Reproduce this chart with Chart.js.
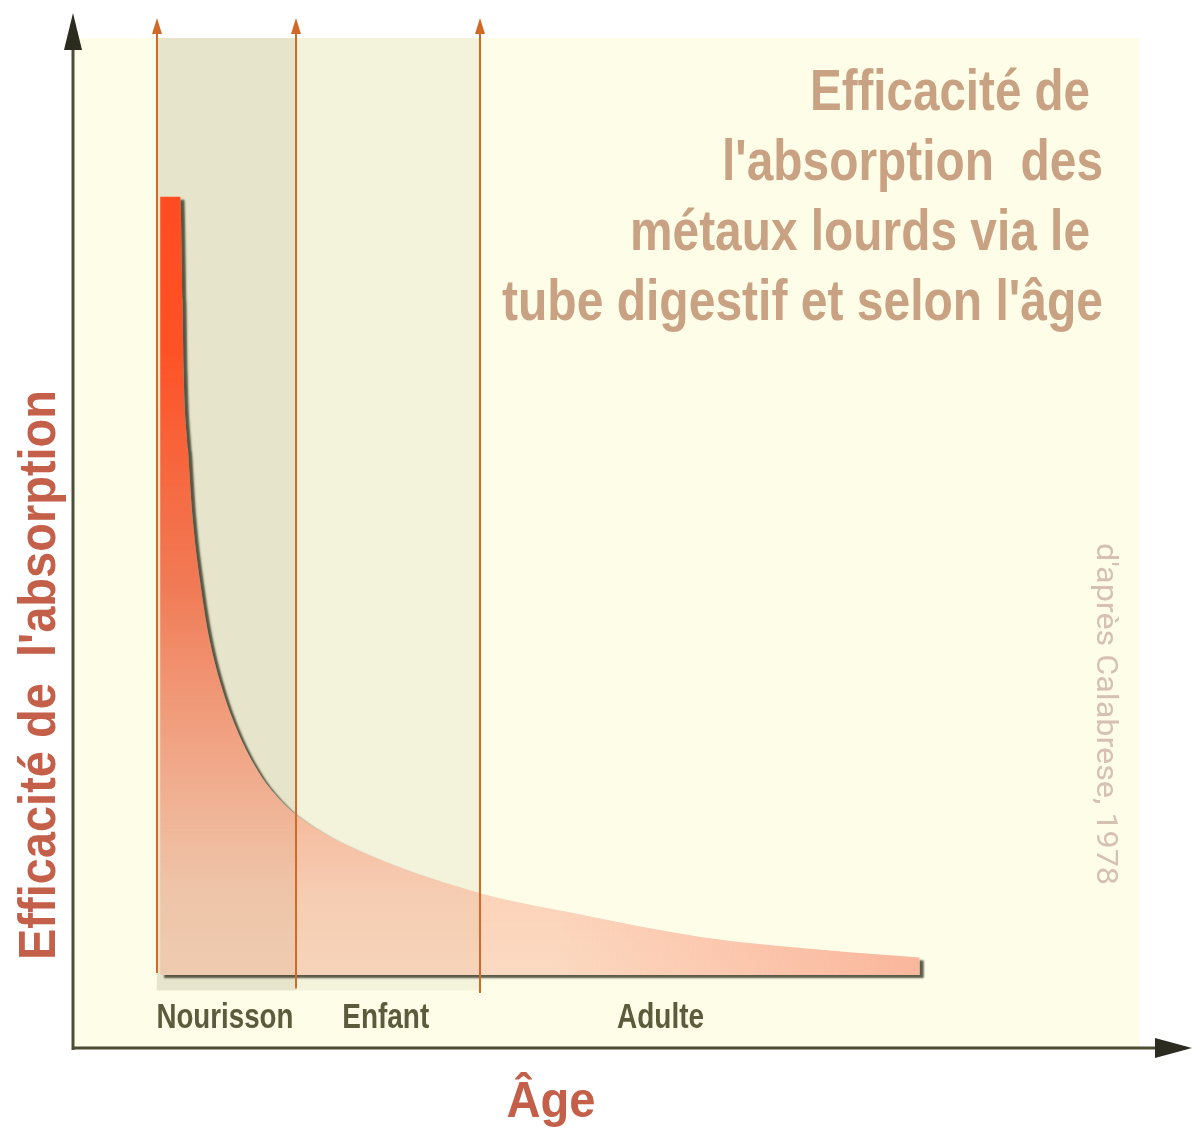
<!DOCTYPE html>
<html lang="fr">
<head>
<meta charset="utf-8">
<title>Efficacité de l'absorption des métaux lourds</title>
<script src="https://cdn.jsdelivr.net/npm/chart.js@4.4.1/dist/chart.umd.min.js"></script>
<style>
  html, body { margin: 0; padding: 0; background: #ffffff; }
  #wrap { width: 1200px; height: 1138px; }
</style>
</head>
<body>
<div id="wrap"><canvas id="absorptionChart" width="1200" height="1138"></canvas></div>
<script>
// Age (arbitrary units) and relative absorption efficiency
const ages = [7.8, 9.6, 9.8, 9.9, 10.3, 10.7, 11.4, 12.1, 13.2, 14.7, 16.7, 18.5, 20.1, 24.8, 36.3, 44.9, 56.2, 67.5, 75.8];
const absorption = [82.8, 82.8, 72.8, 66.0, 58.2, 51.7, 45.2, 40.4, 35.5, 30.9, 26.7, 24.2, 22.6, 19.6, 15.1, 13.1, 10.8, 9.5, 8.8];
const baseline = 7.1;

// Life stages
const stageNames = ['Nourisson', 'Enfant', 'Adulte'];
const stageLabelAt = [13.6, 28.0, 52.6];
const stageBounds = [7.5, 20.0, 36.4];

const titleLines = ['Efficacité de', "l'absorption  des", 'métaux lourds via le', "tube digestif et selon l'âge"];
const yTitle = "Efficacité de  l'absorption";
const xTitle = 'Âge';
const sourceText = "d'après Calabrese, 1978";

const narrowBold = '"Liberation Sans Narrow", "Liberation Sans", Arial, sans-serif';

// draws text squeezed/stretched to a given width
function drawFitted(ctx, text, x, y, width, font, color, align, angle) {
    ctx.save();
    ctx.translate(x, y);
    if (angle) ctx.rotate(angle);
    ctx.font = font;
    const w = ctx.measureText(text).width;
    ctx.scale(width / w, 1);
    ctx.fillStyle = color;
    ctx.textAlign = align;
    ctx.textBaseline = 'alphabetic';
    ctx.fillText(text, 0, 0);
    ctx.restore();
}

function curveFill(chart) {
    const { chartArea, scales: { x, y } } = chart;
    if (!chartArea) return 'rgba(249,165,137,0.5)';
    if (chart.$curvePattern) return chart.$curvePattern;
    const off = document.createElement('canvas');
    off.width = chart.width;
    off.height = chart.height;
    const o = off.getContext('2d');
    const top = y.getPixelForValue(Math.max(...absorption));
    const bottom = y.getPixelForValue(baseline);
    const g = o.createLinearGradient(0, top, 0, bottom);
    g.addColorStop(0, 'rgba(255,76,32,1)');
    g.addColorStop(0.2, 'rgba(254,82,38,1)');
    g.addColorStop(0.5, 'rgba(242,105,66,0.86)');
    g.addColorStop(0.72, 'rgba(247,125,90,0.6)');
    g.addColorStop(0.9, 'rgba(249,160,130,0.45)');
    g.addColorStop(1, 'rgba(250,168,140,0.42)');
    o.fillStyle = g;
    o.fillRect(0, 0, off.width, off.height);
    // the tail gets a bit more saturated towards its end
    const x0 = x.getPixelForValue(43);
    const x1 = x.getPixelForValue(ages[ages.length - 1]);
    const h = o.createLinearGradient(x0, 0, x1, 0);
    h.addColorStop(0, 'rgba(247,150,120,0)');
    h.addColorStop(1, 'rgba(247,150,120,0.5)');
    o.fillStyle = h;
    o.fillRect(x0, bottom - 120, x1 - x0 + 10, 140);
    chart.$curvePattern = chart.ctx.createPattern(off, 'no-repeat');
    return chart.$curvePattern;
}

const backdrop = {
    id: 'backdrop',
    beforeDraw(chart) {
        const { ctx, scales: { x, y } } = chart;
        const top = y.getPixelForValue(98.25);
        const bottom = y.getPixelForValue(0);
        ctx.save();
        ctx.fillStyle = '#fefde8';
        ctx.fillRect(75, top, x.getPixelForValue(95.5) - 75, bottom - top);
        const bandBottom = y.getPixelForValue(5.6);
        const bandColors = ['#e6e4ca', '#f3f2da'];
        for (let i = 0; i < 2; i++) {
            const l = x.getPixelForValue(stageBounds[i]);
            const r = x.getPixelForValue(stageBounds[i + 1]);
            ctx.fillStyle = bandColors[i];
            ctx.fillRect(l, top, r - l, bandBottom - top);
        }
        ctx.restore();
    }
};

const curveShadow = {
    id: 'curveShadow',
    afterDatasetsDraw(chart) {
        const { ctx, scales: { y } } = chart;
        const meta = chart.getDatasetMeta(0);
        const line = meta.dataset;
        const pts = meta.data;
        const first = pts[0], last = pts[pts.length - 1];
        const baseY = y.getPixelForValue(baseline);
        const shape = () => {
            line.path(ctx);
            ctx.lineTo(last.x, baseY);
            ctx.lineTo(first.x, baseY);
            ctx.closePath();
        };
        ctx.save();
        ctx.beginPath();
        ctx.rect(0, 0, chart.width, chart.height);
        shape();
        ctx.clip('evenodd');
        ctx.translate(-3000, 0);
        ctx.beginPath();
        shape();
        ctx.shadowColor = 'rgba(50,50,32,0.8)';
        ctx.shadowBlur = 2;
        ctx.shadowOffsetX = 3004;
        ctx.shadowOffsetY = 3;
        ctx.fillStyle = '#000';
        ctx.fill();
        ctx.restore();

        // stage boundaries with small arrowheads
        const lineBottoms = [7.3, 5.8, 5.35];
        const tipY = 18;
        ctx.save();
        ctx.strokeStyle = '#d06a26';
        ctx.fillStyle = '#d06a26';
        ctx.lineWidth = 2;
        stageBounds.forEach((v, i) => {
            const px = Math.round(chart.scales.x.getPixelForValue(v));
            ctx.beginPath();
            ctx.moveTo(px, tipY + 10);
            ctx.lineTo(px, y.getPixelForValue(lineBottoms[i]));
            ctx.stroke();
            ctx.beginPath();
            ctx.moveTo(px, tipY);
            ctx.lineTo(px + 5, tipY + 16);
            ctx.lineTo(px - 5, tipY + 16);
            ctx.closePath();
            ctx.fill();
        });
        ctx.restore();
    }
};

const decorations = {
    id: 'decorations',
    afterDraw(chart) {
        const { ctx, chartArea, scales: { x } } = chart;
        const ax = 73, ay = chartArea.bottom;
        ctx.save();
        // axes
        ctx.strokeStyle = '#4d4d35';
        ctx.lineWidth = 3;
        ctx.beginPath();
        ctx.moveTo(ax, ay + 2);
        ctx.lineTo(ax, 45);
        ctx.moveTo(ax - 1, ay);
        ctx.lineTo(1160, ay);
        ctx.stroke();
        ctx.fillStyle = '#2b2b20';
        ctx.beginPath();
        ctx.moveTo(ax, 13);
        ctx.lineTo(ax + 9, 50);
        ctx.lineTo(ax - 9, 50);
        ctx.closePath();
        ctx.fill();
        ctx.beginPath();
        ctx.moveTo(1192, ay);
        ctx.lineTo(1155, ay - 10);
        ctx.lineTo(1155, ay + 10);
        ctx.closePath();
        ctx.fill();
        ctx.restore();

        // title block
        const rights = [1090, 1103, 1090, 1103];
        const widths = [280, 381, 460, 601];
        const bases = [110, 180, 250, 320];
        titleLines.forEach((t, i) => {
            drawFitted(ctx, t, rights[i], bases[i], widths[i], 'bold 57px ' + narrowBold, '#c9a283', 'right');
        });

        // stage labels
        const labelWidths = [137, 87, 87];
        stageNames.forEach((s, i) => {
            drawFitted(ctx, s, x.getPixelForValue(stageLabelAt[i]), 1028, labelWidths[i], 'bold 35px ' + narrowBold, '#5c5c3c', 'center');
        });

        // axis titles
        drawFitted(ctx, yTitle, 55, 960, 570, 'bold 52px ' + narrowBold, '#c4604a', 'left', -Math.PI / 2);
        drawFitted(ctx, xTitle, 551, 1117, 89, 'bold 50px ' + narrowBold, '#c4604a', 'center');

        // source
        drawFitted(ctx, sourceText, 1097, 543, 342, '30px Roboto, "Noto Sans", sans-serif', '#d6c1b1', 'left', Math.PI / 2);
    }
};

new Chart(document.getElementById('absorptionChart'), {
    type: 'line',
    data: {
        datasets: [{
            label: "Efficacité de l'absorption",
            data: ages.map((a, i) => ({ x: a, y: absorption[i] })),
            fill: { value: baseline },
            backgroundColor: (c) => curveFill(c.chart),
            borderWidth: 0,
            pointRadius: 0,
            cubicInterpolationMode: 'monotone'
        }]
    },
    options: {
        responsive: false,
        animation: false,
        events: [],
        layout: { padding: { left: 73, right: 10, top: 20, bottom: 90 } },
        scales: {
            x: { type: 'linear', min: 0, max: 100, display: false },
            y: { min: 0, max: 100, display: false }
        },
        plugins: { legend: { display: false }, tooltip: { enabled: false } }
    },
    plugins: [backdrop, curveShadow, decorations]
});
</script>
</body>
</html>
